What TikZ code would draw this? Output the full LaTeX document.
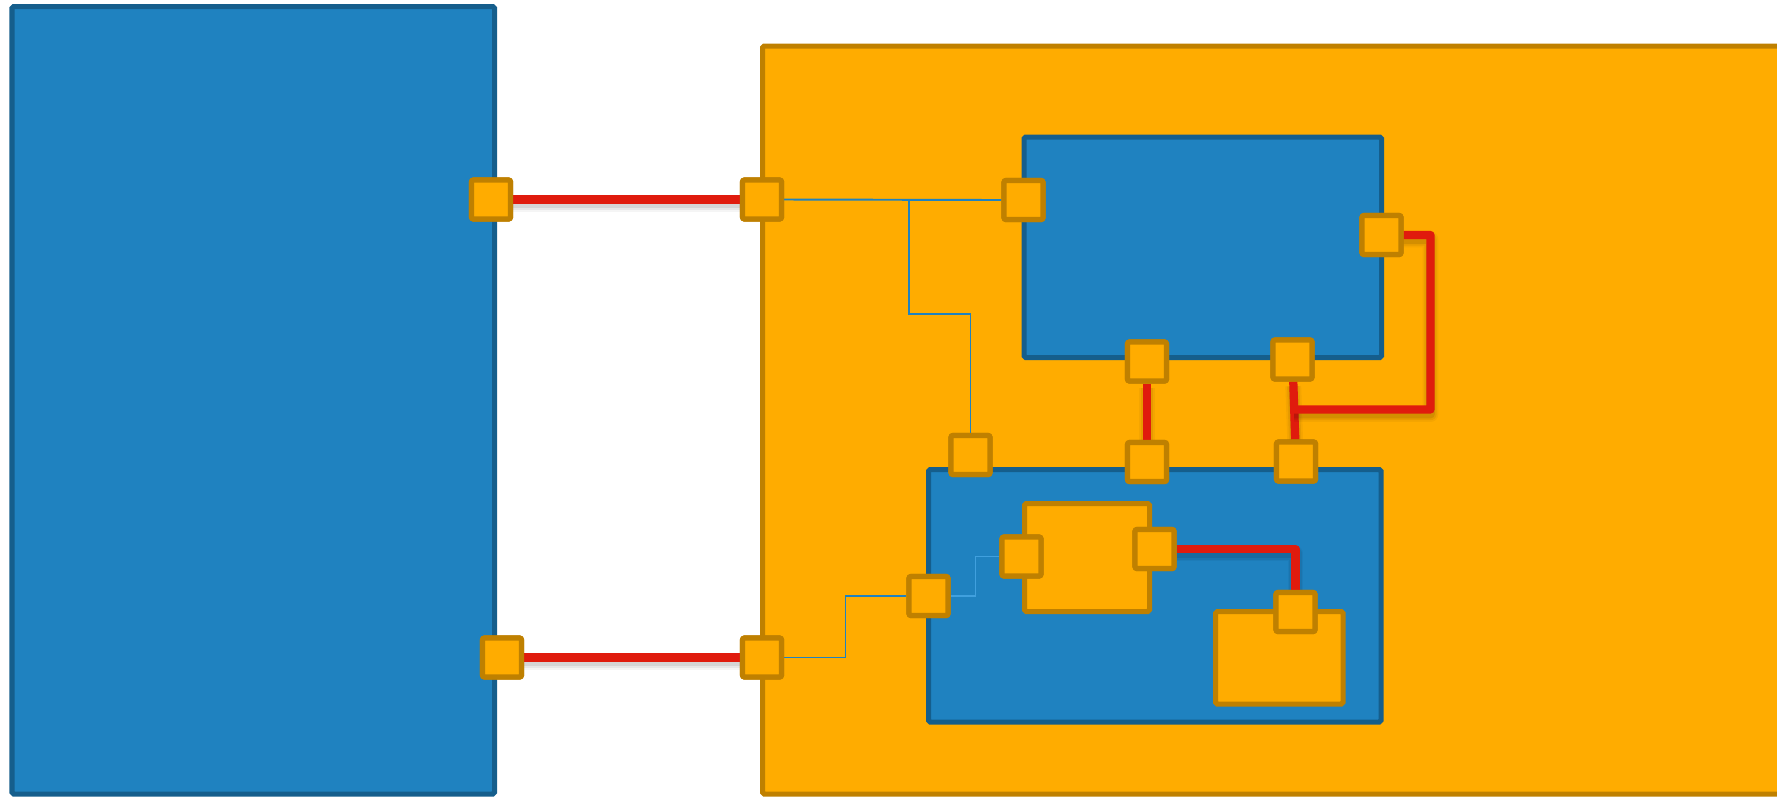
\documentclass[tikz,border=0pt]{standalone}
\usetikzlibrary{calc}
\definecolor{bfill}{RGB}{31,130,192}
\definecolor{bdraw}{RGB}{21,94,140}
\definecolor{ofill}{RGB}{255,172,0}
\definecolor{odraw}{RGB}{191,128,0}
\definecolor{redc}{RGB}{224,27,13}
\definecolor{lblue}{RGB}{64,160,222}
\newcommand{\pxu}{0.02cm}
\newcommand{\redconn}[1]{%
  \begin{scope}[transform canvas={yshift=-2.6pt}]
    \draw[shadowA] #1;
    \draw[shadowB] #1;
    \draw[shadowC] #1;
  \end{scope}
  \draw[conn] #1;}
\begin{document}
\begin{tikzpicture}[x=0.02cm,y=-0.02cm,
  bluebox/.style={rectangle, draw=bdraw, fill=bfill, line width=2.85pt, rounded corners=1pt, inner sep=0pt},
  orangebox/.style={rectangle, draw=odraw, fill=ofill, line width=2.85pt, rounded corners=1pt, inner sep=0pt},
  port/.style={rectangle, draw=odraw, fill=ofill, line width=3pt, rounded corners=1.2pt, minimum size=39*\pxu, inner sep=0pt},
  wire/.style={draw=bfill, line width=1.1pt},
  wirelight/.style={draw=lblue, line width=1.1pt},
  conn/.style={draw=redc, line width=4.7pt, line join=round},
  shadowA/.style={draw=black, draw opacity=0.04, line width=9pt, line join=round},
  shadowB/.style={draw=black, draw opacity=0.06, line width=7pt, line join=round},
  shadowC/.style={draw=black, draw opacity=0.08, line width=5pt, line join=round}
]
\useasboundingbox (0,0) rectangle (1777,796);
\clip (0,0) rectangle (1777,796);

% containers
\node[bluebox, minimum width=482.5*\pxu, minimum height=787.5*\pxu] (left) at (253.25,400.25) {};
\node[orangebox, minimum width=1037.5*\pxu, minimum height=748*\pxu] (outer) at (1281.25,420) {};
\node[bluebox, minimum width=357.5*\pxu, minimum height=220.5*\pxu] (box1) at (1202.75,247.25) {};
\node[bluebox, minimum width=452.5*\pxu, minimum height=252.5*\pxu] (box2) at (1154.75,595.75) {};
\node[orangebox, minimum width=125*\pxu, minimum height=108*\pxu] (M) at (1087,557.5) {};
\node[orangebox, minimum width=127.5*\pxu, minimum height=92.5*\pxu] (Q) at (1279.25,657.75) {};

% ports (positions)
\coordinate (pA) at (491,199.5);
\coordinate (pB) at (762,199.5);
\coordinate (pC) at (1023.5,200);
\coordinate (pD) at (1381.5,235);
\coordinate (pE) at (1292.5,359.5);
\coordinate (pF) at (1296,461.5);
\coordinate (pG) at (1147,361.5);
\coordinate (pH) at (1147,462);
\coordinate (pI) at (970.5,455);
\coordinate (pJ) at (928.5,596);
\coordinate (pK) at (762,657.5);
\coordinate (pL) at (502,657.5);
\coordinate (pN) at (1021.5,556.5);
\coordinate (pO) at (1154.5,549);
\coordinate (pP) at (1295.5,612);

\node[port] (A) at (pA) {};
\node[port] (B) at (pB) {};
\node[port] (C) at (pC) {};
\node[port] (D) at (pD) {};
\node[port] (E) at (pE) {};
\node[port] (F) at (pF) {};
\node[port] (G) at (pG) {};
\node[port] (H) at (pH) {};
\node[port] (I) at (pI) {};
\node[port] (J) at (pJ) {};
\node[port] (K) at (pK) {};
\node[port] (L) at (pL) {};
\node[port] (N) at (pN) {};
\node[port] (O) at (pO) {};
\node[port] (P) at (pP) {};

% bend points
\coordinate (b1) at (909,314);
\coordinate (b2) at (845.5,596);
\coordinate (b3) at (975.5,596);
\coordinate (c1) at (1430.5,409.5);
\coordinate (c2) at ($(E)!0.49!(F)$);

% thin wires
\draw[wire] (B.east) -- (C.west);
\draw[wire] (B.east -| b1) -- (b1) -| (I.north);
\draw[wire] (K.east) -| (b2) -- (J.west);
\draw[wirelight] (J.east) -- (b3) |- (N.west);

% red connectors
\redconn{(A.east) -- (B.west)}
\redconn{(L.east) -- (K.west)}
\redconn{(G.south) -- (H.north)}
\redconn{(E) -- (F)}
\redconn{(D.east) -| (c1) -- (c2)}
\redconn{(O.east) -| (P.north)}

% ports on top
\foreach \p in {A,B,C,D,E,F,G,H,I,J,K,L,N,O,P}
  \node[port] at (p\p) {};
\end{tikzpicture}
\end{document}
